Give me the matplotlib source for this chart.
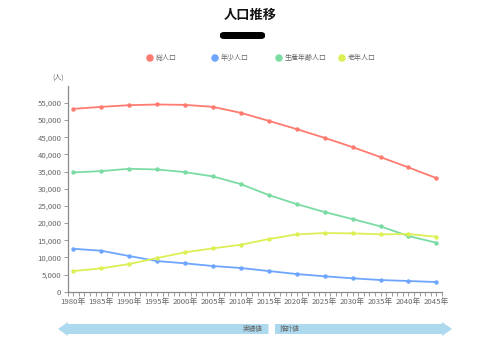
import numpy as np
import matplotlib.pyplot as plt
from matplotlib.patches import FancyBboxPatch, Polygon, Ellipse
from matplotlib.ticker import FuncFormatter, MultipleLocator

plt.rcParams["font.family"] = ["Noto Sans CJK JP", "DejaVu Sans"]

YEARS = [1980, 1985, 1990, 1995, 2000, 2005, 2010, 2015, 2020, 2025, 2030, 2035, 2040, 2045]
TOTAL = [53250, 53840, 54330, 54530, 54420, 53840, 52090, 49760, 47350, 44810, 42110, 39200, 36200, 33090]
YOUNG = [12510, 11930, 10390, 8930, 8260, 7480, 6900, 6020, 5150, 4480, 3900, 3400, 3110, 2820]
WORKING = [34740, 35120, 35800, 35600, 34830, 33580, 31340, 28140, 25520, 23190, 21150, 19030, 16210, 14260]
ELDERLY = [6020, 6800, 8060, 9810, 11460, 12630, 13680, 15340, 16700, 17080, 16990, 16700, 16790, 16000]

NAMES = ["総人口", "年少人口", "生産年齢人口", "老年人口"]
COLORS = ["#ff7b70", "#6ea6ff", "#7adca2", "#dcef55"]
TICK_LABELS = [f"{y}年" for y in YEARS]

AXIS = "#8a8a8a"
TXT = "#666666"

fig = plt.figure(figsize=(5.0, 3.52), dpi=100)
ax = fig.add_axes([0.1354, 0.1713, 0.7486, 0.5852])

for vals, color in zip((TOTAL, YOUNG, WORKING, ELDERLY), COLORS):
    ax.plot(YEARS, vals, color=color, linewidth=1.3, marker="o", markersize=3.2,
            markeredgewidth=0, zorder=3)

ax.set_xlim(1979, 2046)
ax.set_ylim(0, 60000)
ax.set_yticks(np.arange(0, 55001, 5000))
ax.yaxis.set_major_formatter(FuncFormatter(lambda v, p: f"{int(v):,}"))
ax.set_xticks(YEARS)
ax.set_xticklabels(TICK_LABELS)
ax.xaxis.set_minor_locator(MultipleLocator(1))
ax.tick_params(axis="both", which="major", labelsize=5.6, colors=AXIS, labelcolor=TXT,
               length=3, width=0.6, pad=1.5)
ax.tick_params(axis="x", which="minor", length=3, width=0.6, colors=AXIS)
for s in ("top", "right"):
    ax.spines[s].set_visible(False)
for s in ("left", "bottom"):
    ax.spines[s].set_color(AXIS)
    ax.spines[s].set_linewidth(0.9)

fig.text(58 / 500, 1 - 78 / 352, "(人)", fontsize=5, color=TXT, ha="center", va="center")

# title + redacted subtitle
fig.text(0.5, 1 - 15 / 352, "人口推移", fontsize=9.5, fontweight="bold", color="#111111",
         ha="center", va="center")
fig.patches.append(FancyBboxPatch((220 / 500, 1 - 39 / 352), 45 / 500, 7 / 352,
                                  boxstyle="round,pad=0,rounding_size=0.008",
                                  transform=fig.transFigure, facecolor="#000000",
                                  edgecolor="none"))

# legend
leg_x = [150, 215, 279, 342]
for x, name, color in zip(leg_x, NAMES, COLORS):
    fig.patches.append(Ellipse((x / 500, 1 - 58 / 352), 7.5 / 500, 7.5 / 352,
                               transform=fig.transFigure, facecolor=color, edgecolor="none"))
    fig.text((x + 6) / 500, 1 - 58 / 352, name, fontsize=5, color=TXT, ha="left", va="center")

# bottom arrows (実績値 / 推計値)
LB = "#acd9ee"
def to_fig(px, py):
    return (px / 500, 1 - py / 352)

left_arrow = [to_fig(58, 329), to_fig(68, 322), to_fig(68, 324), to_fig(268.5, 324),
              to_fig(268.5, 334), to_fig(68, 334), to_fig(68, 336)]
right_arrow = [to_fig(452, 329), to_fig(442, 336), to_fig(442, 334), to_fig(275, 334),
               to_fig(275, 324), to_fig(442, 324), to_fig(442, 322)]
for pts in (left_arrow, right_arrow):
    fig.patches.append(Polygon(pts, closed=True, transform=fig.transFigure,
                               facecolor=LB, edgecolor="none"))
fig.text(263 / 500, 1 - 329 / 352, "実績値", fontsize=4.8, color=TXT, ha="right", va="center")
fig.text(280 / 500, 1 - 329 / 352, "推計値", fontsize=4.8, color=TXT, ha="left", va="center")

fig.savefig("out.png", dpi=100, facecolor="white")
